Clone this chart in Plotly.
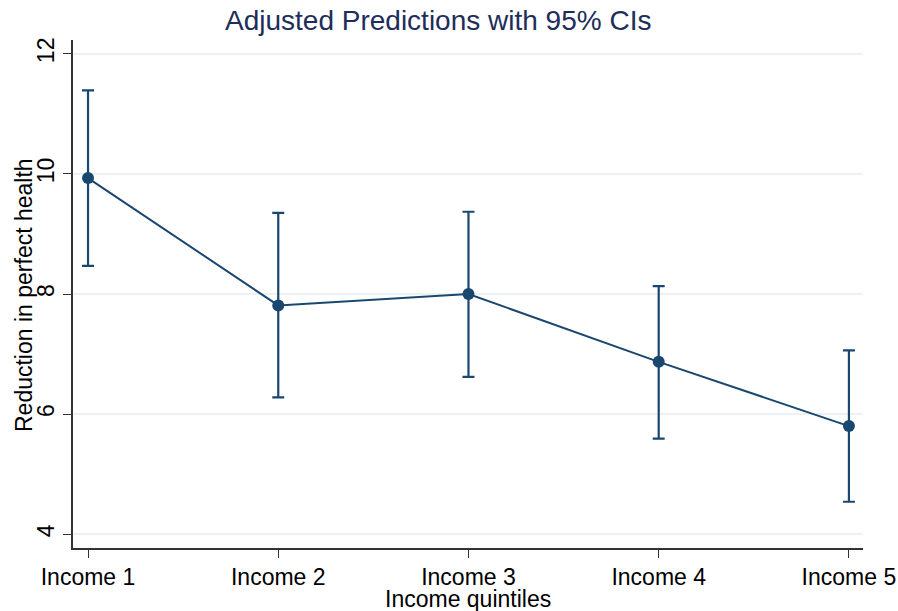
import plotly.graph_objects as go

categories = ["Income 1", "Income 2", "Income 3", "Income 4", "Income 5"]
predicted = [9.93, 7.81, 8.00, 6.87, 5.80]
ci_upper = [11.39, 9.35, 9.37, 8.13, 7.06]
ci_lower = [8.47, 6.28, 6.62, 5.59, 4.54]
y_ticks = [4, 6, 8, 10, 12]

xpos = list(range(len(categories)))
color = "#1a476f"

fig = go.Figure()
fig.add_trace(go.Scatter(
    x=xpos, y=predicted, mode="lines+markers",
    line=dict(color=color, width=2),
    marker=dict(color=color, size=12),
    error_y=dict(type="data", symmetric=False,
                 array=[u - p for u, p in zip(ci_upper, predicted)],
                 arrayminus=[p - l for p, l in zip(predicted, ci_lower)],
                 color=color, thickness=2.2, width=6),
    showlegend=False,
))

fig.update_layout(
    width=898, height=611,
    paper_bgcolor="white", plot_bgcolor="white",
    margin=dict(l=73, r=35, t=40, b=63),
    font=dict(family="Liberation Sans, Arial, sans-serif", color="black", size=23),
    title=dict(text="Adjusted Predictions with 95% CIs", x=0.488, xanchor="center",
               y=0.967, yanchor="middle",
               font=dict(size=28, color="#1e2d5a")),
    annotations=[
        dict(text="Income quintiles", xref="paper", yref="paper",
             x=0.5, y=(548 - 599) / 508, xanchor="center", yanchor="middle",
             showarrow=False, font=dict(size=23, color="black")),
        dict(text="Reduction in perfect health", xref="paper", yref="paper",
             x=(24 - 73) / 790, y=(548 - 295) / 508, xanchor="center", yanchor="middle",
             textangle=-90, showarrow=False, font=dict(size=23, color="black")),
    ],
)
fig.update_xaxes(
    range=[-0.079, 4.074], tickvals=xpos, ticktext=categories, automargin=False,
    showline=True, linecolor="#333333", linewidth=1.5,
    ticks="outside", ticklen=8, tickcolor="#333333",
    showgrid=False, zeroline=False,
)
fig.update_yaxes(
    range=[3.77, 12.23], tickvals=y_ticks, tickangle=-90, automargin=False,
    showline=True, linecolor="#333333", linewidth=1.5,
    ticks="outside", ticklen=8, tickcolor="#333333",
    showgrid=True, gridcolor="#eaf2f3", gridwidth=1.5, zeroline=False,
)

fig.write_html("out.html", config={"displayModeBar": False},
               post_script="document.body.style.margin='0';document.body.style.overflow='hidden';")
